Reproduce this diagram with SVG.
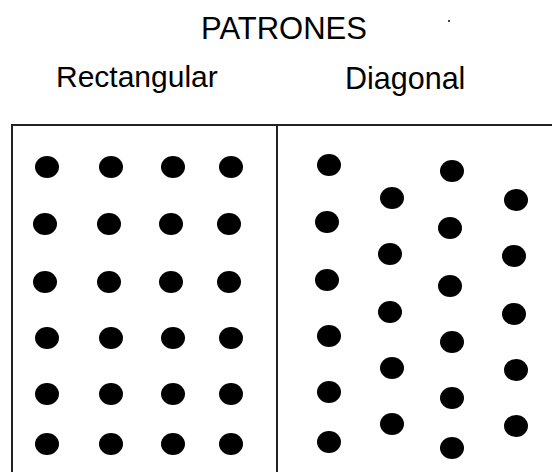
<svg xmlns="http://www.w3.org/2000/svg" width="552" height="472" viewBox="0 0 552 472">
<style>
.t{font-family:"Liberation Sans",Arial,sans-serif;fill:#000;}
.d{fill:#000;}
.fr{stroke:#222;stroke-width:2;fill:none;}
</style>
<defs><ellipse id="dot" rx="12" ry="11" class="d"/></defs>
<rect x="0" y="0" width="552" height="472" fill="#fff"/>
<text class="t" x="201" y="39" font-size="31">PATRONES</text>
<rect x="448" y="20" width="2" height="2" fill="#444"/>
<text class="t" x="56" y="87" font-size="30">Rectangular</text>
<text class="t" x="345" y="89" font-size="30.5">Diagonal</text>
<g id="frame">
<path class="fr" d="M12,472 V125 H553 M277,125 V472"/>
</g>
<g id="rectangular">
<use href="#dot" x="47" y="167"/><use href="#dot" x="111" y="167"/><use href="#dot" x="173" y="167"/><use href="#dot" x="231" y="167"/>
<use href="#dot" x="45" y="224"/><use href="#dot" x="109" y="224"/><use href="#dot" x="171" y="224"/><use href="#dot" x="229" y="224"/>
<use href="#dot" x="45" y="282"/><use href="#dot" x="109" y="282"/><use href="#dot" x="171" y="282"/><use href="#dot" x="229" y="282"/>
<use href="#dot" x="47" y="338"/><use href="#dot" x="111" y="338"/><use href="#dot" x="173" y="338"/><use href="#dot" x="231" y="338"/>
<use href="#dot" x="47" y="394"/><use href="#dot" x="111" y="394"/><use href="#dot" x="173" y="394"/><use href="#dot" x="231" y="394"/>
<use href="#dot" x="47" y="444"/><use href="#dot" x="111" y="444"/><use href="#dot" x="173" y="444"/><use href="#dot" x="231" y="444"/>
</g>
<g id="diagonal">
<use href="#dot" x="329" y="165"/><use href="#dot" x="327" y="222"/><use href="#dot" x="327" y="280"/><use href="#dot" x="329" y="336"/><use href="#dot" x="329" y="392"/><use href="#dot" x="329" y="442"/>
<use href="#dot" x="392" y="198"/><use href="#dot" x="390" y="254"/><use href="#dot" x="390" y="312"/><use href="#dot" x="392" y="368"/><use href="#dot" x="392" y="424"/>
<use href="#dot" x="452" y="171"/><use href="#dot" x="450" y="228"/><use href="#dot" x="450" y="286"/><use href="#dot" x="452" y="342"/><use href="#dot" x="452" y="398"/><use href="#dot" x="452" y="448"/>
<use href="#dot" x="516" y="200"/><use href="#dot" x="514" y="256"/><use href="#dot" x="514" y="314"/><use href="#dot" x="516" y="370"/><use href="#dot" x="516" y="426"/>
</g>
</svg>
